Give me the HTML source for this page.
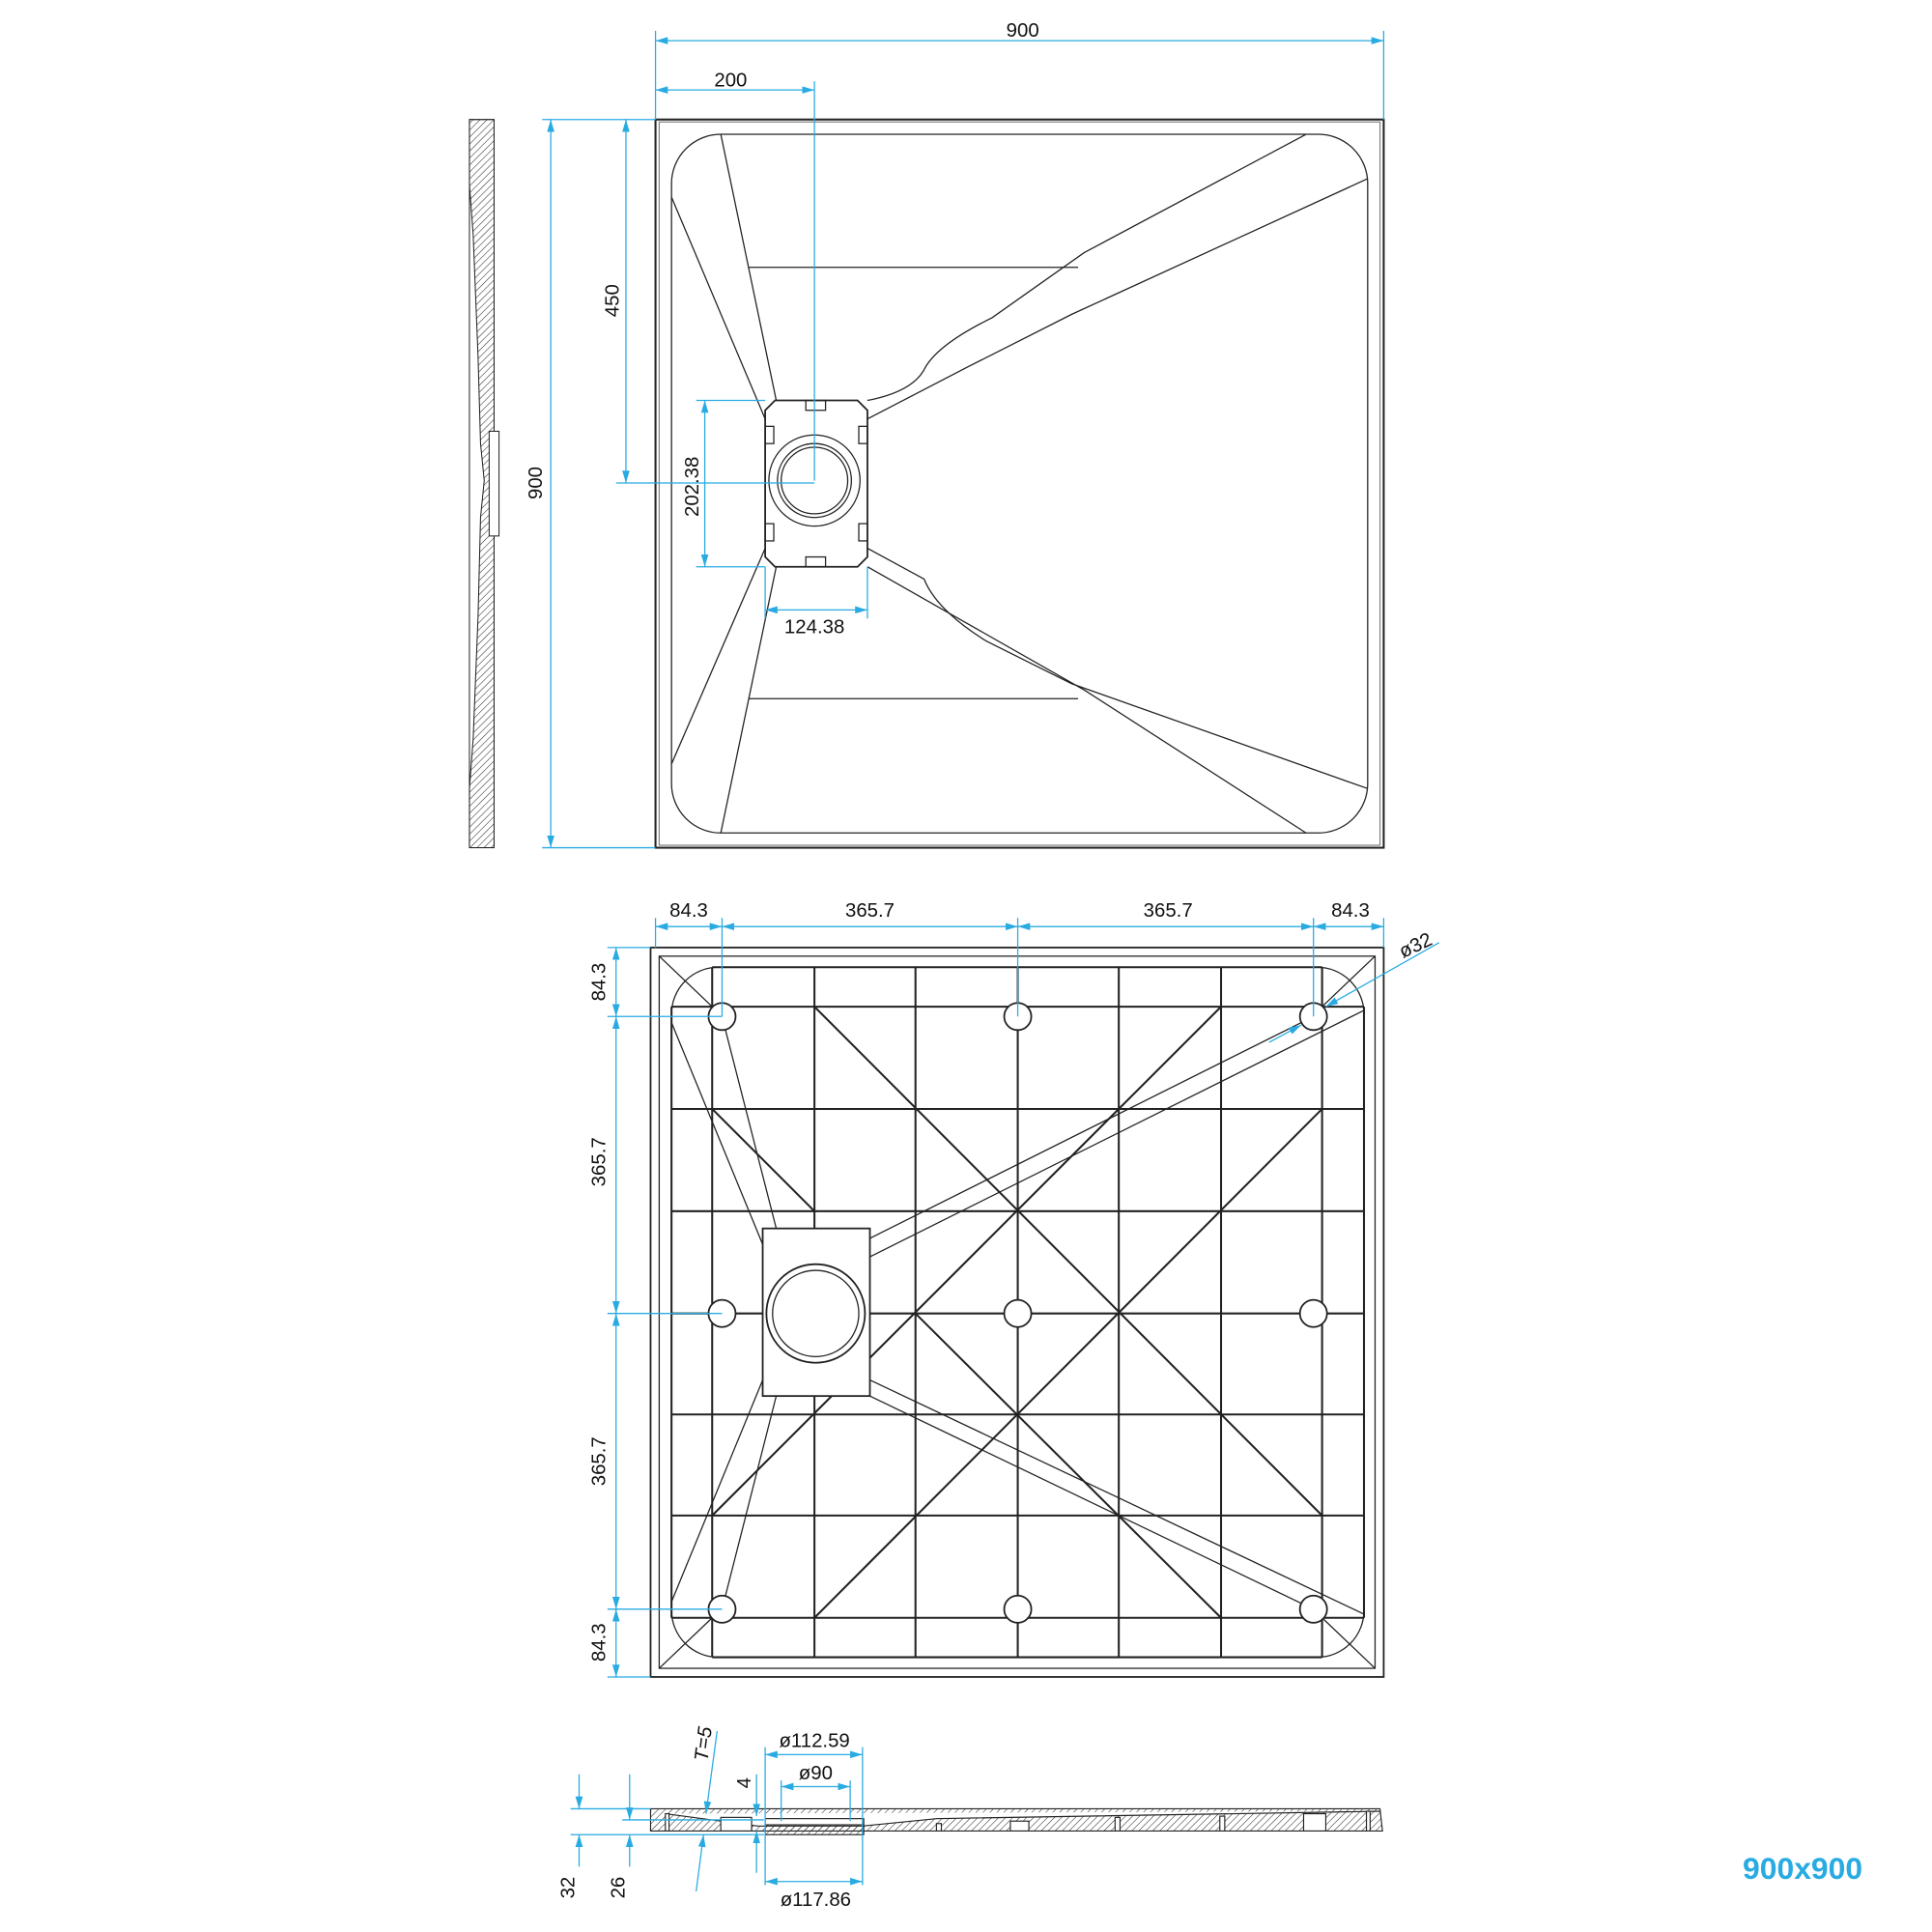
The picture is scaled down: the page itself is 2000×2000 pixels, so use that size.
<!DOCTYPE html>
<html><head><meta charset="utf-8"><style>
html,body{margin:0;padding:0;background:#fff;}
svg{display:block;}
text{font-family:"Liberation Sans",sans-serif;font-size:16px;fill:#111;}
</style></head><body>
<svg width="2000" height="2000" viewBox="0 0 1568 1568" xmlns="http://www.w3.org/2000/svg">
<defs>
<pattern id="h" width="4" height="4" patternUnits="userSpaceOnUse" patternTransform="rotate(45)"><line x1="0" y1="0" x2="0" y2="4" stroke="#222" stroke-width="0.8"/></pattern>
<marker id="a" viewBox="0 0 10 6" refX="10" refY="3" markerWidth="10" markerHeight="6" orient="auto-start-reverse" markerUnits="userSpaceOnUse"><path d="M0,0L10,3L0,6z" fill="#29abe2"/></marker>
</defs>

<!-- ===== TOP VIEW ===== -->
<g fill="none" stroke="#222" stroke-width="1">
<rect x="532" y="97" width="591" height="591" stroke-width="1.6"/>
<rect x="535" y="99" width="585" height="587" stroke="#888"/>
<rect x="545" y="109" width="565" height="567" rx="40"/>
<path d="M629,325H696L704,333V452L696,460H629L621,452V333Z" stroke-width="1.4"/>
<circle cx="661" cy="390" r="37"/>
<circle cx="661" cy="390" r="30"/>
<circle cx="661" cy="390" r="27"/>
<rect x="654" y="325" width="16" height="8"/><rect x="654" y="452" width="16" height="8"/>
<rect x="621" y="346" width="7" height="14"/><rect x="697" y="346" width="7" height="14"/>
<rect x="621" y="425" width="7" height="14"/><rect x="697" y="425" width="7" height="14"/>
<path d="M585,109L630,325M545,160L621,340"/>
<path d="M585,676L630,460M545,620L621,445"/>
<path d="M1060,109L880,205L805,258Q760,280 750,300Q740,318 704,325"/>
<path d="M1110,145L870,255L785,298L704,340"/>
<path d="M704,445L750,470Q760,495 800,520L870,555L1110,640"/>
<path d="M704,460L880,560L1060,676"/>
<path d="M608,217H875M608,567H875"/>
</g>

<g stroke="#222" stroke-width="0.8">
<rect x="381" y="97" width="20" height="591" fill="none"/>
<path d="M381,97H401V688H381V640L384,600L388,500L390,420L393,390L390,360L388,290L384,190L381,150Z" fill="url(#h)"/>
<rect x="397" y="350" width="8" height="85" fill="#fff"/>
</g>

<g stroke="#29abe2" stroke-width="1" fill="none">
<path d="M532,97V25M1123,97V25M661,390V66"/>
<line x1="532" y1="33" x2="1123" y2="33" marker-start="url(#a)" marker-end="url(#a)"/>
<line x1="532" y1="73" x2="661" y2="73" marker-start="url(#a)" marker-end="url(#a)"/>
<path d="M440,97H532M440,688H532M500,392H661M565,325H621M565,460H621M621,460V502M704,460V502"/>
<line x1="508" y1="97" x2="508" y2="392" marker-start="url(#a)" marker-end="url(#a)"/>
<line x1="447" y1="97" x2="447" y2="688" marker-start="url(#a)" marker-end="url(#a)"/>
<line x1="572" y1="325" x2="572" y2="460" marker-start="url(#a)" marker-end="url(#a)"/>
<line x1="621" y1="495" x2="704" y2="495" marker-start="url(#a)" marker-end="url(#a)"/>
</g>
<text x="830" y="30" text-anchor="middle">900</text>
<text x="593" y="70" text-anchor="middle">200</text>
<text transform="translate(502,244) rotate(-90)" text-anchor="middle">450</text>
<text transform="translate(440,392) rotate(-90)" text-anchor="middle">900</text>
<text transform="translate(567,395) rotate(-90)" text-anchor="middle">202.38</text>
<text x="661" y="514" text-anchor="middle">124.38</text>

<!-- ===== BOTTOM VIEW ===== -->
<g fill="none" stroke="#222" stroke-width="1">
<rect x="528" y="769" width="595" height="592" stroke-width="1.4"/>
<rect x="535" y="776" width="581" height="578"/>
<path d="M535,776L578,817M1116,776L1073,817M535,1354L578,1313M1116,1354L1073,1313"/>
<rect x="545" y="785" width="562" height="560" rx="38"/>
<g stroke-width="1.6">
<path d="M545,817H1107M545,900H1107M545,983H1107M545,1066H1107M545,1148H1107M545,1230H1107M545,1313H1107"/>
<path d="M578,785V1345M661,785V1345M743,785V1345M826,785V1345M908,785V1345M991,785V1345M1073,785V1345"/>
<path d="M545,817V1313M1107,817V1313M578,785H1073M578,1345H1073"/>
<path d="M661,817L1073,1230M991,817L578,1230M1073,900L661,1313M578,900L661,983M743,1066L991,1313"/>
</g>
<path d="M586,825L630,997M545,830L619,1010M586,1306L630,1133M545,1300L619,1120"/>
<path d="M706,1005L1066,825M706,1020L1107,820M706,1133L1066,1306M706,1120L1107,1310"/>
<g fill="#fff" stroke-width="1.4">
<circle cx="586" cy="825" r="11"/><circle cx="826" cy="825" r="11"/><circle cx="1066" cy="825" r="11"/>
<circle cx="586" cy="1066" r="11"/><circle cx="826" cy="1066" r="11"/><circle cx="1066" cy="1066" r="11"/>
<circle cx="586" cy="1306" r="11"/><circle cx="826" cy="1306" r="11"/><circle cx="1066" cy="1306" r="11"/>
<rect x="619" y="997" width="87" height="136"/>
</g>
<circle cx="662" cy="1066" r="40" stroke-width="1.4"/>
<circle cx="662" cy="1066" r="35"/>
</g>

<g stroke="#29abe2" stroke-width="1" fill="none">
<path d="M532,769V745M586,825V745M826,825V745M1066,825V745M1123,769V745"/>
<line x1="532" y1="752" x2="586" y2="752" marker-start="url(#a)" marker-end="url(#a)"/>
<line x1="586" y1="752" x2="826" y2="752" marker-start="url(#a)" marker-end="url(#a)"/>
<line x1="826" y1="752" x2="1066" y2="752" marker-start="url(#a)" marker-end="url(#a)"/>
<line x1="1066" y1="752" x2="1123" y2="752" marker-start="url(#a)" marker-end="url(#a)"/>
<path d="M493,769H528M493,825H586M493,1066H586M493,1306H586M493,1361H528"/>
<line x1="500" y1="769" x2="500" y2="825" marker-start="url(#a)" marker-end="url(#a)"/>
<line x1="500" y1="825" x2="500" y2="1066" marker-start="url(#a)" marker-end="url(#a)"/>
<line x1="500" y1="1066" x2="500" y2="1306" marker-start="url(#a)" marker-end="url(#a)"/>
<line x1="500" y1="1306" x2="500" y2="1361" marker-start="url(#a)" marker-end="url(#a)"/>
<line x1="1030" y1="846" x2="1056" y2="832" marker-end="url(#a)"/>
<line x1="1168" y1="765" x2="1076" y2="817" marker-end="url(#a)"/>
</g>
<text x="559" y="744" text-anchor="middle">84.3</text>
<text x="706" y="744" text-anchor="middle">365.7</text>
<text x="948" y="744" text-anchor="middle">365.7</text>
<text x="1096" y="744" text-anchor="middle">84.3</text>
<text transform="translate(491,797) rotate(-90)" text-anchor="middle">84.3</text>
<text transform="translate(491,943) rotate(-90)" text-anchor="middle">365.7</text>
<text transform="translate(491,1186) rotate(-90)" text-anchor="middle">365.7</text>
<text transform="translate(491,1333) rotate(-90)" text-anchor="middle">84.3</text>
<text transform="translate(1151,772) rotate(-25)" text-anchor="middle">ø32</text>

<!-- ===== SECTION VIEW ===== -->
<g stroke="#222" stroke-width="0.9">
<path d="M528,1468H1120L1122,1486H528Z" fill="url(#h)"/>
<path d="M540,1472L615,1482H700L760,1476L1120,1470" fill="#fff"/>
<rect x="621" y="1480" width="80" height="9" fill="url(#h)"/>
<rect x="621" y="1476" width="80" height="5" fill="#fff"/>
<g fill="#fff"><rect x="585" y="1475" width="25" height="11"/><rect x="820" y="1478" width="15" height="8"/><rect x="1058" y="1472" width="18" height="14"/><rect x="905" y="1475" width="4" height="11"/><rect x="990" y="1474" width="4" height="12"/><rect x="760" y="1480" width="4" height="6"/><rect x="1109" y="1470" width="3" height="16"/><rect x="540" y="1472" width="3" height="14"/></g>
</g>
<g stroke="#29abe2" stroke-width="1" fill="none">
<path d="M463,1468H528M505,1477H620M463,1489H620"/>
<line x1="470" y1="1440" x2="470" y2="1468" marker-end="url(#a)"/>
<line x1="470" y1="1515" x2="470" y2="1489" marker-end="url(#a)"/>
<line x1="511" y1="1440" x2="511" y2="1477" marker-end="url(#a)"/>
<line x1="511" y1="1515" x2="511" y2="1489" marker-end="url(#a)"/>
<line x1="582" y1="1405" x2="573" y2="1472" marker-end="url(#a)"/>
<line x1="565" y1="1535" x2="571" y2="1489" marker-end="url(#a)"/>
<line x1="614" y1="1440" x2="614" y2="1474" marker-end="url(#a)"/>
<line x1="614" y1="1520" x2="614" y2="1486" marker-end="url(#a)"/>
<path d="M621,1418V1530M700,1418V1530M634,1445V1478M690,1445V1478"/>
<line x1="621" y1="1424" x2="700" y2="1424" marker-start="url(#a)" marker-end="url(#a)"/>
<line x1="634" y1="1450" x2="690" y2="1450" marker-start="url(#a)" marker-end="url(#a)"/>
<line x1="621" y1="1527" x2="700" y2="1527" marker-start="url(#a)" marker-end="url(#a)"/>
</g>
<text x="661" y="1418" text-anchor="middle">ø112.59</text>
<text x="662" y="1444" text-anchor="middle">ø90</text>
<text x="662" y="1547" text-anchor="middle">ø117.86</text>
<text transform="translate(609,1447) rotate(-90)" text-anchor="middle">4</text>
<text transform="translate(576,1416) rotate(-83)" text-anchor="middle" font-style="italic">T=5</text>
<text transform="translate(466,1532) rotate(-90)" text-anchor="middle">32</text>
<text transform="translate(507,1532) rotate(-90)" text-anchor="middle">26</text>

<text x="1463" y="1525" text-anchor="middle" style="font-size:25px;font-weight:bold;fill:#29abe2">900x900</text>
</svg>
</body></html>
